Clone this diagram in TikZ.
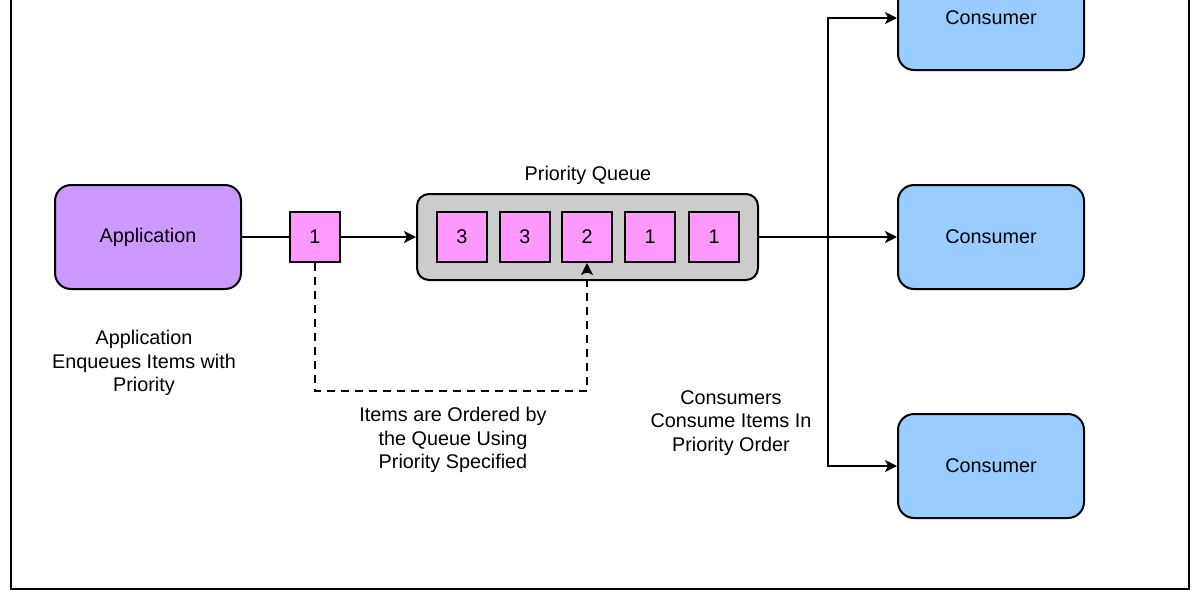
\documentclass[tikz,border=0pt]{standalone}
\usepackage{fontspec}
\setmainfont{Liberation Sans}
\usetikzlibrary{arrows.meta}
\definecolor{appfill}{HTML}{CC99FF}
\definecolor{consfill}{HTML}{99CCFF}
\definecolor{itemfill}{HTML}{FF99FF}
\definecolor{queuefill}{HTML}{CCCCCC}
\begin{document}
\begin{tikzpicture}[x=0.5pt,y=-0.5pt,
  every node/.style={font=\fontsize{9.9pt}{11.7pt}\selectfont},
  appbox/.style={draw,line width=1pt,fill=appfill,rounded corners=8pt,minimum width=93pt,minimum height=52pt,inner sep=0pt},
  consbox/.style={draw,line width=1pt,fill=consfill,rounded corners=8pt,minimum width=93pt,minimum height=52pt,inner sep=0pt},
  itembox/.style={draw,line width=1pt,fill=itemfill,minimum width=25pt,minimum height=25pt,inner sep=0pt},
  queuebox/.style={draw,line width=1pt,fill=queuefill,rounded corners=6pt,minimum width=170.5pt,minimum height=43pt,inner sep=0pt},
  lbl/.style={align=center,inner sep=0pt},
  conn/.style={line width=1pt},
  arr/.style={line width=1pt,-{Stealth[length=6pt,width=6pt,inset=1.5pt]}},
  dashline/.style={dash pattern=on 4pt off 3pt}]
\useasboundingbox (0,0) rectangle (1200,600);
\draw[line width=0.8pt] (11,-20) rectangle (1189,589);
% nodes
\node[appbox] (app) at (148,237) {\raisebox{-1pt}{Application}};
\node[itembox] (it0) at (315,237) {1};
\node[queuebox] (queue) at (587.5,237) {};
\node[lbl] (qlbl) at (588,175) {Priority Queue};
\node[itembox] (q1) at (462,237) {3};
\node[itembox] (q2) at (525,237) {3};
\node[itembox] (q3) at (587,237) {2};
\node[itembox] (q4) at (650,237) {1};
\node[itembox] (q5) at (714,237) {1};
\node[consbox] (c1) at (991,18) {\raisebox{-1pt}{Consumer}};
\node[consbox] (c2) at (991,237) {\raisebox{-1pt}{Consumer}};
\node[consbox] (c3) at (991,466) {\raisebox{-1pt}{Consumer}};
\node[lbl] (lapp) at (144,363) {Application\\Enqueues Items with\\Priority};
\node[lbl] (lord) at (453,440) {Items are Ordered by\\the Queue Using\\Priority Specified};
\node[lbl] (lcons) at (731,423) {Consumers\\Consume Items In\\Priority Order};
% connectors
\coordinate (dd) at (587,391);
\coordinate (br) at (828,237);
\draw[conn] (app) -- (it0);
\draw[arr] (it0) -- (queue);
\draw[arr,dashline] (it0.south) |- (dd) -- (q3.south);
\draw[arr] (queue) -- (c2);
\draw[arr] (br) |- (c1);
\draw[arr] (br) |- (c3);
\end{tikzpicture}
\end{document}
